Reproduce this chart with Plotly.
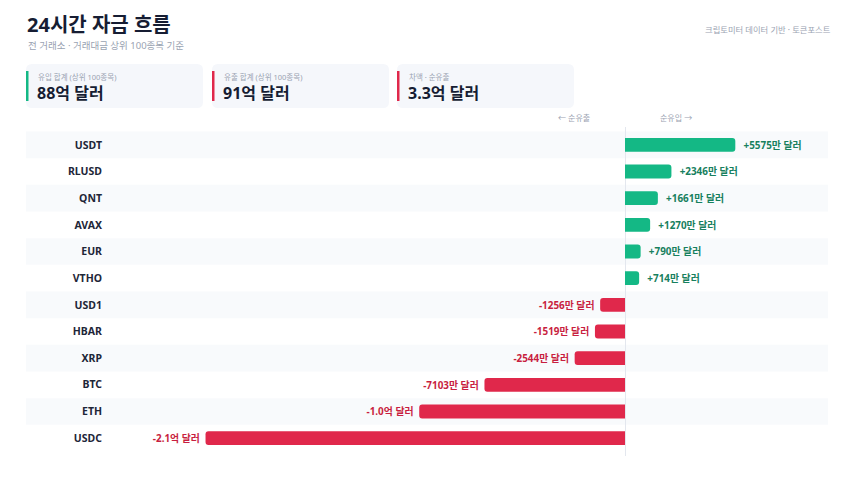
import plotly.graph_objects as go

# ---- data (values in 만 달러) ----
coins = ['USDT', 'RLUSD', 'QNT', 'AVAX', 'EUR', 'VTHO',
         'USD1', 'HBAR', 'XRP', 'BTC', 'ETH', 'USDC']
net_flow = [5575, 2346, 1661, 1270, 790, 714,
            -1256, -1519, -2544, -7103, -10400, -21200]

card_labels = ['유입 합계 (상위 100종목)', '유출 합계 (상위 100종목)', '차액 · 순유출']
card_values = ['88억 달러', '91억 달러', '3.3억 달러']
card_kinds = ['in', 'out', 'out']

title = '24시간 자금 흐름'
subtitle = '전 거래소 · 거래대금 상위 100종목 기준'
source = '크립토미터 데이터 기반 · 토큰포스트'

# ---- style ----
# page body adds an 8px offset, so the figure is a bit smaller than the window
OFF = 8
W, H = 860 - OFF, 483 - OFF
L, R, T, B = 110 - OFF, 32 - OFF, 127 - OFF, 27
pw, ph = W - L - R, H - T - B
font_fam = 'Noto Sans, Noto Sans CJK KR, sans-serif'
green, red = '#14b885', '#e0284b'
green_txt, red_txt = '#17805e', '#c81e40'
dark, gray = '#161d33', '#9aa3b2'


# positions below are screen pixels of the reference
def px2x(px):
    return (px - OFF - L) / pw


def px2y(py):
    return (H - B - (py - OFF)) / ph


def fmt(v):
    sign = '+' if v > 0 else '-'
    a = abs(v)
    if a >= 10000:
        return sign + '%.1f억 달러' % (a / 10000)
    return sign + '%d만 달러' % a


def rounded_rect(x0, y0, x1, y1, r):
    # pixel coords -> paper path with rounded corners
    X0, X1 = px2x(x0), px2x(x1)
    Yt, Yb = px2y(y0), px2y(y1)
    rx, ry = r / pw, r / ph
    return (f'M{X0+rx},{Yt} L{X1-rx},{Yt} Q{X1},{Yt} {X1},{Yt-ry} '
            f'L{X1},{Yb+ry} Q{X1},{Yb} {X1-rx},{Yb} L{X0+rx},{Yb} '
            f'Q{X0},{Yb} {X0},{Yb+ry} L{X0},{Yt-ry} Q{X0},{Yt} {X0+rx},{Yt} Z')


labels = ['\u00a0\u00a0' + fmt(v) if v > 0 else fmt(v) + '\u00a0' for v in net_flow]
bar_colors = [green if v > 0 else red for v in net_flow]
txt_colors = [green_txt if v > 0 else red_txt for v in net_flow]

fig = go.Figure()
fig.add_trace(go.Bar(
    x=net_flow, y=coins, orientation='h',
    marker=dict(color=bar_colors, cornerradius=3, line=dict(width=0)),
    width=0.52,
    text=labels, textposition='outside', cliponaxis=False,
    outsidetextfont=dict(family=font_fam, size=10, color=txt_colors, weight='bold'),
    hoverinfo='skip', showlegend=False,
))

shapes = []
# striped rows
for i, c in enumerate(coins):
    if i % 2 == 0:
        shapes.append(dict(type='rect', xref='paper', yref='y', layer='below',
                           x0=px2x(26), x1=px2x(828), y0=i - 0.5, y1=i + 0.5,
                           fillcolor='#f8fafc', line=dict(width=0)))

# summary cards
annotations = []
card_x = [26, 212, 397]
for cx, lab, val, kind in zip(card_x, card_labels, card_values, card_kinds):
    shapes.append(dict(type='path', xref='paper', yref='paper',
                       path=rounded_rect(cx, 64, cx + 177, 108, 6),
                       fillcolor='#f5f7fb', line=dict(width=0)))
    shapes.append(dict(type='rect', xref='paper', yref='paper',
                       x0=px2x(cx), x1=px2x(cx + 2.5), y0=px2y(101), y1=px2y(71),
                       fillcolor=green if kind == 'in' else red, line=dict(width=0)))
    annotations.append(dict(xref='paper', yref='paper', x=px2x(cx + 10), y=px2y(77),
                            xanchor='left', yanchor='middle', showarrow=False, text=lab,
                            font=dict(family=font_fam, size=7.5, color=gray)))
    annotations.append(dict(xref='paper', yref='paper', x=px2x(cx + 9), y=px2y(93),
                            xanchor='left', yanchor='middle', showarrow=False, text=val,
                            font=dict(family=font_fam, size=16, color=dark, weight='bold')))

# header texts
annotations += [
    dict(xref='paper', yref='paper', x=px2x(25), y=px2y(24), xanchor='left', yanchor='middle',
         showarrow=False, text=title, font=dict(family=font_fam, size=20, color=dark, weight='bold')),
    dict(xref='paper', yref='paper', x=px2x(26), y=px2y(45), xanchor='left', yanchor='middle',
         showarrow=False, text=subtitle, font=dict(family=font_fam, size=9.5, color=gray)),
    dict(xref='paper', yref='paper', x=px2x(833), y=px2y(29), xanchor='right', yanchor='middle',
         showarrow=False, text=source, font=dict(family=font_fam, size=8.3, color=gray)),
    dict(xref='x', yref='paper', x=0, xshift=-33, y=px2y(118), xanchor='right', yanchor='middle',
         showarrow=False, text='← 순유출', font=dict(family=font_fam, size=8, color=gray)),
    dict(xref='x', yref='paper', x=0, xshift=33, y=px2y(118), xanchor='left', yanchor='middle',
         showarrow=False, text='순유입 →', font=dict(family=font_fam, size=8, color=gray)),
]

scale = 50.54  # 만 달러 per pixel
fig.update_layout(
    width=W, height=H,
    margin=dict(l=L, r=R, t=T, b=B),
    paper_bgcolor='white', plot_bgcolor='rgba(0,0,0,0)',
    shapes=shapes, annotations=annotations,
    bargap=0.48,
    xaxis=dict(range=[-(625 - OFF - L) * scale, (W - R - (625 - OFF)) * scale],
               showgrid=False, showticklabels=False, zeroline=True,
               zerolinecolor='#e3e7ee', zerolinewidth=1, fixedrange=True),
    yaxis=dict(categoryorder='array', categoryarray=coins,
               range=[len(coins) - 0.5 + 0.17, -0.5 - 0.17],
               showgrid=False, zeroline=False, ticks='', ticklabelstandoff=7,
               tickfont=dict(family=font_fam, size=10.5, color='#1e2638', weight='bold'),
               fixedrange=True),
    font=dict(family=font_fam),
)

fig.write_html('out.html')
